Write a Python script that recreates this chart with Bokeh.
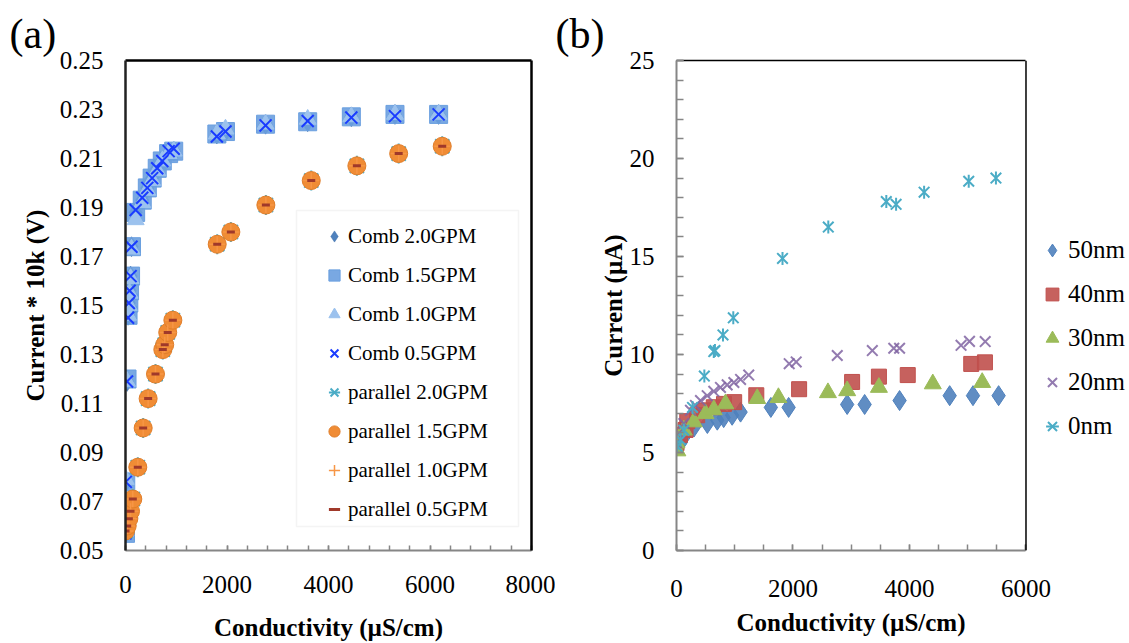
from bokeh.plotting import figure
from bokeh.layouts import row
from bokeh.models import (Range1d, FixedTicker, PrintfTickFormatter, LinearAxis,
                          Legend, LegendItem, BoxAnnotation, Span, Title)
from bokeh.embed import file_html
from bokeh.resources import INLINE
import math

SERIF = "Liberation Serif"

# ---------------- panel (a) data ----------------
comb_x = [0, 5, 30, 50, 65, 80, 100, 118, 200, 330, 430, 525, 625, 725, 850, 950,
          1800, 1970, 2760, 3590, 4450, 5310, 6170]
comb_20_y = [0.057, 0.078, 0.119, 0.146, 0.151, 0.156, 0.162, 0.174, 0.188, 0.193, 0.198,
             0.202, 0.206, 0.209, 0.212, 0.213, 0.220, 0.221, 0.224, 0.225, 0.227, 0.228, 0.228]
comb_15_y = [0.057, 0.078, 0.120, 0.146, 0.151, 0.156, 0.162, 0.174, 0.188, 0.193, 0.198,
             0.202, 0.206, 0.209, 0.212, 0.213, 0.220, 0.221, 0.224, 0.225, 0.227, 0.228, 0.228]
comb_10_y = [0.058, 0.079, 0.119, 0.146, 0.150, 0.155, 0.161, 0.173, 0.185, 0.192, 0.197,
             0.201, 0.205, 0.209, 0.212, 0.213, 0.220, 0.222, 0.224, 0.226, 0.227, 0.228, 0.228]
comb_05_y = [0.057, 0.078, 0.119, 0.145, 0.151, 0.156, 0.162, 0.174, 0.189, 0.194, 0.198,
             0.202, 0.206, 0.209, 0.213, 0.214, 0.219, 0.221, 0.2235, 0.2253, 0.2267, 0.2273, 0.228]

par_x = [0, 33, 66, 99, 144, 242, 348, 446, 591, 735, 773, 832, 933,
         1807, 2076, 2766, 3660, 4559, 5383, 6241]
par_20_y = [0.058, 0.060, 0.063, 0.066, 0.071, 0.084, 0.100, 0.112, 0.122, 0.132, 0.134,
            0.139, 0.144, 0.175, 0.180, 0.191, 0.201, 0.207, 0.212, 0.215]
par_15_y = [0.058, 0.060, 0.063, 0.066, 0.071, 0.084, 0.100, 0.112, 0.122, 0.132, 0.134,
            0.139, 0.144, 0.175, 0.180, 0.191, 0.201, 0.207, 0.212, 0.215]
par_10_y = [0.058, 0.060, 0.063, 0.066, 0.071, 0.084, 0.100, 0.112, 0.122, 0.132, 0.134,
            0.139, 0.144, 0.175, 0.180, 0.191, 0.201, 0.207, 0.212, 0.215]
par_05_y = [0.058, 0.060, 0.063, 0.066, 0.071, 0.084, 0.100, 0.112, 0.122, 0.132, 0.134,
            0.139, 0.144, 0.175, 0.180, 0.191, 0.201, 0.207, 0.212, 0.215]

a_xticks = [0, 2000, 4000, 6000, 8000]
a_yticks = [0.05, 0.07, 0.09, 0.11, 0.13, 0.15, 0.17, 0.19, 0.21, 0.23, 0.25]

# ---------------- panel (b) data ----------------
nm50_x = [0, 70, 150, 300, 530, 700, 810, 955, 1100, 1620, 1925, 2930, 3230, 3830, 4690, 5090, 5530]
nm50_y = [5.3, 5.5, 5.9, 6.3, 6.48, 6.65, 6.78, 6.9, 7.06, 7.3, 7.3, 7.45, 7.45, 7.65, 7.9, 7.9, 7.9]
nm40_x = [0, 60, 155, 185, 355, 470, 640, 815, 990, 1370, 2105, 3015, 3475, 3970, 5060, 5295]
nm40_y = [5.48, 5.9, 6.15, 6.6, 6.9, 7.15, 7.31, 7.48, 7.57, 7.92, 8.23, 8.6, 8.87, 8.95, 9.52, 9.6]
nm30_x = [0, 15, 126, 297, 498, 640, 841, 1386, 1750, 2600, 2930, 3475, 4400, 5248]
nm30_y = [5.48, 5.08, 6.14, 6.56, 6.98, 7.18, 7.48, 7.75, 7.8, 8.05, 8.15, 8.32, 8.5, 8.57]
nm20_x = [0, 40, 126, 240, 326, 412, 527, 640, 755, 870, 985, 1100, 1240, 1935, 2055, 2760,
          3362, 3730, 3830, 4885, 5030, 5300]
nm20_y = [5.5, 5.98, 6.48, 7.15, 7.4, 7.65, 7.9, 8.12, 8.32, 8.45, 8.57, 8.73, 8.95, 9.53, 9.62,
          9.95, 10.2, 10.32, 10.32, 10.47, 10.67, 10.66]
nm0_x = [11, 69, 126, 275, 478, 640, 660, 798, 975, 1820, 2606, 3602, 3770, 4251, 5017, 5484]
nm0_y = [5.31, 5.64, 6.14, 7.3, 8.9, 10.15, 10.2, 11.0, 11.87, 14.9, 16.5, 17.8, 17.66, 18.28, 18.84, 19.0]

b_xticks = [0, 2000, 4000, 6000]
b_yticks = [0, 5, 10, 15, 20, 25]
B_XMAX = 6000


def style_axis(ax, line_color, tick_len):
    ax.axis_line_color = line_color
    ax.axis_line_width = 2
    ax.major_tick_in = tick_len
    ax.major_tick_out = 0
    ax.minor_tick_in = tick_len
    ax.minor_tick_out = 0
    ax.major_tick_line_color = "#868686"
    ax.minor_tick_line_color = "#868686"
    ax.major_tick_line_width = 1.5
    ax.minor_tick_line_width = 1.5
    ax.major_label_text_font = SERIF
    ax.major_label_text_font_size = "25px"
    ax.major_label_text_color = "black"
    ax.axis_label_text_font = SERIF
    ax.axis_label_text_font_size = "25px"
    ax.axis_label_text_font_style = "bold"
    ax.axis_label_text_color = "black"


def border_axis(p, side, width, bounds="auto"):
    ax = LinearAxis(ticker=FixedTicker(ticks=[]), bounds=bounds)
    ax.axis_line_color = "black"
    ax.axis_line_width = width
    ax.major_tick_out = 0
    ax.major_tick_in = 0
    ax.minor_tick_out = 0
    ax.minor_tick_in = 0
    ax.major_label_text_font_size = "0px"
    ax.major_label_standoff = 0
    p.add_layout(ax, side)


def panel_title(p, text, offset):
    p.title.text = text
    p.title.text_font = SERIF
    p.title.text_font_size = "42px"
    p.title.text_font_style = "normal"
    p.title.text_color = "black"
    p.title.align = "left"
    p.title.vertical_align = "top"
    p.title.offset = offset
    p.title.standoff = 4


# ================= panel (a) =================
p1 = figure(width=555, height=643, x_range=Range1d(0, 8000), y_range=Range1d(0.05, 0.25),
            output_backend="svg", toolbar_location=None,
            min_border_left=125, min_border_right=24, min_border_top=60, min_border_bottom=92)
p1.outline_line_color = None
p1.xgrid.visible = False
p1.ygrid.visible = False
panel_title(p1, "(a)", -116)

p1.xaxis.ticker = FixedTicker(ticks=a_xticks, minor_ticks=list(range(0, 8001, 400)))
p1.yaxis.ticker = FixedTicker(ticks=a_yticks)
p1.yaxis.formatter = PrintfTickFormatter(format="%.2f")
style_axis(p1.xaxis[0], "#868686", 5)
style_axis(p1.yaxis[0], "#222222", 0)
p1.yaxis.axis_line_width = 2.5
p1.xaxis.axis_label = "Conductivity (µS/cm)"
p1.yaxis.axis_label = "Current * 10k (V)"
p1.xaxis.major_label_standoff = 25
p1.yaxis.major_label_standoff = 22
p1.xaxis.axis_label_standoff = 18
p1.yaxis.axis_label_standoff = 8
border_axis(p1, "above", 2.5)
border_axis(p1, "right", 2.5)

ra1 = p1.scatter(comb_x, comb_20_y, marker="diamond", size=20, fill_color="#4F81BD",
                 line_color="#3A6DA8", line_width=0.5)
ra2 = p1.scatter(comb_x, comb_15_y, marker="square", size=18, fill_color="#6A9FDF",
                 line_color="#6A9FDF", fill_alpha=0.9)
ra3 = p1.scatter(comb_x, comb_10_y, marker="triangle", size=17, fill_color="#9CC2EE",
                 line_color="#9CC2EE")
ra4 = p1.scatter(comb_x, comb_05_y, marker="x", size=17, line_color="#1A3CFF", line_width=2)
ra5a = p1.scatter(par_x, par_20_y, marker="x", size=20, line_color="#4BACC6", line_width=2)
ra5b = p1.scatter(par_x, par_20_y, marker="dash", angle=math.pi / 2, size=20,
                  line_color="#4BACC6", line_width=2)
ra6 = p1.scatter(par_x, par_15_y, marker="circle", size=18, fill_color="#F08C35",
                 line_color="#E07E2A", line_width=1)
ra7 = p1.scatter(par_x, par_10_y, marker="cross", size=16, line_color="#F79646", line_width=1.5)
ra8 = p1.scatter(par_x, par_05_y, marker="dash", size=8, line_color="#A0392A", line_width=3)

# legend frame box (screen units relative to the plot frame)
p1.add_layout(BoxAnnotation(left=171, right=393, bottom=24, top=340,
                            left_units="screen", right_units="screen",
                            bottom_units="screen", top_units="screen",
                            fill_color="white", fill_alpha=1.0,
                            line_color="#D9D9D9", line_width=1.5))

leg1 = Legend(items=[
    LegendItem(label="Comb 2.0GPM", renderers=[ra1]),
    LegendItem(label="Comb 1.5GPM", renderers=[ra2]),
    LegendItem(label="Comb 1.0GPM", renderers=[ra3]),
    LegendItem(label="Comb 0.5GPM", renderers=[ra4]),
    LegendItem(label="parallel 2.0GPM", renderers=[ra5a, ra5b]),
    LegendItem(label="parallel 1.5GPM", renderers=[ra6]),
    LegendItem(label="parallel 1.0GPM", renderers=[ra7]),
    LegendItem(label="parallel 0.5GPM", renderers=[ra8]),
], location=(195, 25))
leg1.label_text_font = SERIF
leg1.label_text_font_size = "21px"
leg1.label_text_color = "black"
leg1.glyph_width = 28
leg1.glyph_height = 32
leg1.label_height = 32
leg1.spacing = 7
leg1.padding = 0
leg1.margin = 0
leg1.label_standoff = 0
leg1.border_line_color = None
leg1.background_fill_alpha = 0
p1.add_layout(leg1, "center")

# ================= panel (b) =================
# frame spans to the right edge so that the legend is drawn inside it;
# the x axis itself is bounded to 0..6000
p2 = figure(width=574, height=643, x_range=Range1d(0, 7777), y_range=Range1d(0, 25),
            output_backend="svg", toolbar_location=None,
            min_border_left=121, min_border_right=0, min_border_top=57, min_border_bottom=87)
p2.outline_line_color = None
p2.xgrid.visible = False
p2.ygrid.visible = False
panel_title(p2, "(b)", -121)
p2.xaxis.ticker = FixedTicker(ticks=b_xticks, minor_ticks=list(range(0, 6001, 500)))
p2.xaxis.bounds = (0, B_XMAX)
p2.yaxis.ticker = FixedTicker(ticks=b_yticks, minor_ticks=list(range(0, 26, 1)))
style_axis(p2.xaxis[0], "#868686", 6)
style_axis(p2.yaxis[0], "#868686", 7)
p2.yaxis.axis_label = "Current (µA)"
p2.xaxis.major_label_standoff = 29
p2.yaxis.major_label_standoff = 22
p2.yaxis.axis_label_standoff = 0
border_axis(p2, "above", 1.5, bounds=(0, B_XMAX))
p2.add_layout(Span(location=B_XMAX, dimension="height", line_color="black", line_width=1.5))

xt2 = Title(text="Conductivity (µS/cm)", align="left", offset=60,
            text_font=SERIF, text_font_size="25px", text_font_style="bold",
            text_color="black", standoff=14)
p2.add_layout(xt2, "below")

rb1 = p2.scatter(nm50_x, nm50_y, marker="diamond", size=20, fill_color="#4F81BD",
                 line_color="#4F81BD", fill_alpha=0.9)
rb2 = p2.scatter(nm40_x, nm40_y, marker="square", size=15, fill_color="#C0504D",
                 line_color="#C0504D", fill_alpha=0.9)
rb3 = p2.scatter(nm30_x, nm30_y, marker="triangle", size=17, fill_color="#9BBB59",
                 line_color="#9BBB59")
rb4 = p2.scatter(nm20_x, nm20_y, marker="x", size=15, line_color="#8064A2", line_width=2,
                 line_alpha=0.85)
rb5a = p2.scatter(nm0_x, nm0_y, marker="x", size=15, line_color="#4BACC6", line_width=2)
rb5b = p2.scatter(nm0_x, nm0_y, marker="dash", angle=math.pi / 2, size=13,
                  line_color="#4BACC6", line_width=2)

leg2 = Legend(items=[
    LegendItem(label="50nm", renderers=[rb1]),
    LegendItem(label="40nm", renderers=[rb2]),
    LegendItem(label="30nm", renderers=[rb3]),
    LegendItem(label="20nm", renderers=[rb4]),
    LegendItem(label="0nm", renderers=[rb5a, rb5b]),
], location=(360, 108))
leg2.label_text_font = SERIF
leg2.label_text_font_size = "25px"
leg2.label_text_color = "black"
leg2.glyph_width = 32
leg2.glyph_height = 32
leg2.label_height = 32
leg2.spacing = 12
leg2.padding = 0
leg2.margin = 0
leg2.label_standoff = 0
leg2.border_line_color = None
leg2.background_fill_alpha = 0
p2.add_layout(leg2, "center")

layout = row(p1, p2)
open("out.html", "w").write(file_html(layout, INLINE))
